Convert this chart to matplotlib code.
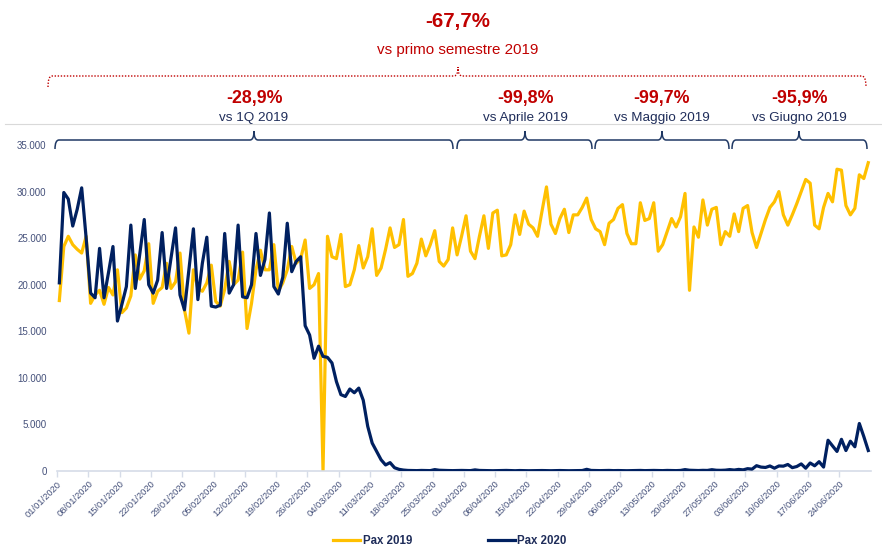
import numpy as np
import pandas as pd
import matplotlib
matplotlib.use('Agg')
import matplotlib.pyplot as plt
import matplotlib.transforms as mtransforms
from matplotlib.path import Path
from matplotlib.patches import PathPatch
from matplotlib.lines import Line2D

plt.rcParams['font.family'] = ['Liberation Sans Narrow', 'Arial Narrow', 'Liberation Sans', 'DejaVu Sans']

# daily passengers, 01/01 -> 30/06
pax_2019 = [
    18300, 24100, 25200, 24300, 23800, 23400, 25200,
    18000, 18900, 19400, 17900, 19700, 18900, 21600,
    17000, 17500, 18800, 23200, 20600, 21500, 24400,
    18000, 19300, 19700, 22300, 19600, 20300, 23400,
    17300, 14800, 21600, 19600, 19300, 20200, 22100,
    18200, 17700, 19500, 22500, 20000, 20500, 23500,
    15300, 18000, 21600, 23700, 21600, 21600, 24300,
    19300, 20200, 21600, 24100, 22300, 22800, 24800,
    19600, 20000, 21200, 0, 25200, 23000, 22800,
    25400, 19800, 20000, 21600, 24200, 21800, 23000,
    26000, 21000, 21800, 23800, 26100, 24000, 24300,
    27000, 20900, 21200, 22300, 24900, 23100, 24300,
    25800, 22500, 22000, 22700, 26100, 23200, 25200,
    27400, 23600, 22800, 25200, 27400, 23900, 27700,
    28000, 23100, 23200, 24300, 27500, 25400, 27900,
    26500, 26100, 25200, 27900, 30500, 26500, 25500,
    27100, 28100, 25600, 27500, 27500, 28300, 29300,
    27000, 26000, 25700, 24300, 26600, 27000, 28200,
    28600, 25500, 24400, 24400, 28800, 26900, 27100,
    28800, 23600, 24300, 25700, 27100, 26200, 27300,
    29800, 19400, 26200, 25100, 29100, 26400, 28100,
    28300, 24300, 25700, 25200, 27600, 25700, 28200,
    28500, 25600, 24000, 25500, 27000, 28300, 28900,
    30000, 27500, 26400, 27500, 28700, 30000, 31300,
    30900, 26400, 26000, 28300, 29800, 28900, 32400,
    32300, 28500, 27500, 28200, 31800, 31400, 33100,
]

pax_2020 = [
    20200, 29900, 29200, 26300, 28100, 30400, 25000,
    19100, 18600, 23900, 18600, 21300, 24100, 16100,
    17900, 19800, 26400, 19600, 23300, 27000, 20000,
    19100, 20500, 25600, 19600, 22900, 26100, 18900,
    17300, 21600, 26000, 18400, 22300, 25100, 17700,
    17600, 17800, 25500, 19100, 20000, 26400, 18700,
    18600, 20000, 25500, 21000, 22700, 27700, 19800,
    19000, 20800, 26600, 21400, 22500, 23000, 15600,
    14600, 12100, 13400, 12300, 12200, 11600, 9600,
    8200, 8000, 8800, 8400, 8900, 7600, 4800,
    3000, 2100, 1200, 650, 900, 350, 180,
    100, 60, 50, 40, 60, 50, 40,
    150, 80, 60, 50, 40, 50, 60,
    50, 40, 120, 60, 50, 40, 30,
    40, 50, 60, 40, 30, 50, 40,
    30, 40, 60, 50, 40, 30, 40,
    50, 40, 30, 40, 60, 50, 180,
    60, 50, 40, 50, 60, 40, 50,
    40, 30, 40, 50, 60, 40, 50,
    60, 50, 40, 60, 50, 40, 60,
    150, 80, 60, 50, 70, 60, 140,
    80, 70, 90, 150, 100, 170, 120,
    250, 200, 570, 420, 380, 540, 300,
    540, 520, 700, 360, 480, 760, 300,
    860, 560, 1000, 420, 3300, 2700, 2100,
    3400, 2200, 3200, 2600, 5100, 3700, 2200,
]

dates = pd.date_range('2020-01-01', '2020-06-30', freq='D')
y_ticks = [0, 5000, 10000, 15000, 20000, 25000, 30000, 35000]

# header annotations
total_label = '-67,7%'
total_sub = 'vs primo semestre 2019'
period_labels = ['-28,9%', '-99,8%', '-99,7%', '-95,9%']
period_subs = ['vs 1Q 2019', 'vs Aprile 2019', 'vs Maggio 2019', 'vs Giugno 2019']

YELLOW = '#FFC000'
NAVY = '#002060'
RED = '#C00000'
TXT = '#1F2D5A'
TICK = '#44507A'
AXIS = '#D6DCE8'

W, H = 882, 550
fig = plt.figure(figsize=(W / 100, H / 100), dpi=100)


def fx(x):
    return x / W


def fy(y):
    return 1 - y / H


ax = fig.add_axes([fx(57.1), fy(471), (870.5 - 57.1) / W, (471 - 145) / H])
x = np.arange(len(dates))
ax.plot(x, pax_2019, color=YELLOW, lw=2.3, solid_joinstyle='round', zorder=2)
ax.plot(x, pax_2020, color=NAVY, lw=2.3, solid_joinstyle='round', zorder=3)

ax.set_xlim(-0.5, len(dates) - 0.5)
ax.set_ylim(0, 35000)
for s in ['top', 'right', 'left']:
    ax.spines[s].set_visible(False)
ax.spines['bottom'].set_color(AXIS)
ax.spines['bottom'].set_linewidth(1.2)

tick_idx = np.arange(0, len(dates), 7)
ax.set_xticks(tick_idx - 0.5)
ax.set_xticklabels([dates[i].strftime('%d/%m/%Y') for i in tick_idx],
                   rotation=45, ha='right', va='top', rotation_mode='anchor',
                   fontsize=6.7, color=TICK)
shift = mtransforms.ScaledTranslation(4 / 100, -4 / 100, fig.dpi_scale_trans)
for lab in ax.get_xticklabels():
    lab.set_transform(lab.get_transform() + shift)
ax.tick_params(axis='x', length=4, color=AXIS, width=1, pad=2)
ax.set_yticks(y_ticks)
ax.set_yticklabels([f'{v:,}'.replace(',', '.') for v in y_ticks], fontsize=7, color=TICK)
ax.tick_params(axis='y', length=0, pad=7.5)


def brace(x0, x1, xc, y, drop, tip, color, ls='-', lw=1.1, r=4):
    verts = [(x0, y + drop), (x0, y), (x0 + r, y),
             (xc - r, y), (xc, y), (xc, y - tip),
             (xc, y), (xc + r, y),
             (x1 - r, y), (x1, y), (x1, y + drop)]
    codes = [Path.MOVETO, Path.CURVE3, Path.CURVE3,
             Path.LINETO, Path.CURVE3, Path.CURVE3,
             Path.CURVE3, Path.CURVE3,
             Path.LINETO, Path.CURVE3, Path.CURVE3]
    verts = [(fx(a), fy(b)) for a, b in verts]
    fig.add_artist(PathPatch(Path(verts, codes), fill=False, edgecolor=color,
                             lw=lw, ls=ls, transform=fig.transFigure))


# light separator
fig.add_artist(Line2D([fx(5), fx(882)], [fy(124), fy(124)], color='#D9D9D9', lw=0.8,
                      transform=fig.transFigure))

# semester brace
brace(48, 866, 458, 76, 11, 9, RED, ls=(0, (1, 1.2)), lw=1.0)
fig.text(fx(458), fy(22), total_label, ha='center', va='center', fontsize=14.8,
         fontweight='bold', color=RED)
fig.text(fx(458), fy(50), total_sub, ha='center', va='center', fontsize=10.9, color=RED)

# period braces
spans = [(55, 453, 254), (457, 592, 525), (595, 729, 662), (732, 867, 799)]
for (a, b, c), lab, sub in zip(spans, period_labels, period_subs):
    brace(a, b, c, 140, 9, 9, '#1F3864')
    fig.text(fx(c), fy(99), lab, ha='center', va='center', fontsize=12.8,
             fontweight='bold', color=RED)
    fig.text(fx(c), fy(118), sub, ha='center', va='center', fontsize=9.7, color=TXT)

handles = [Line2D([], [], color=YELLOW, lw=2.3), Line2D([], [], color=NAVY, lw=2.3)]
leg = fig.legend(handles, ['Pax 2019', 'Pax 2020'], loc='center', ncol=2,
                 bbox_to_anchor=(fx(450), fy(541)), frameon=False,
                 prop={'size': 8.3, 'weight': 'bold'}, handlelength=2.35,
                 handletextpad=0.2, columnspacing=6.6)
for t in leg.get_texts():
    t.set_color(TXT)

fig.savefig('out.png', dpi=100)
